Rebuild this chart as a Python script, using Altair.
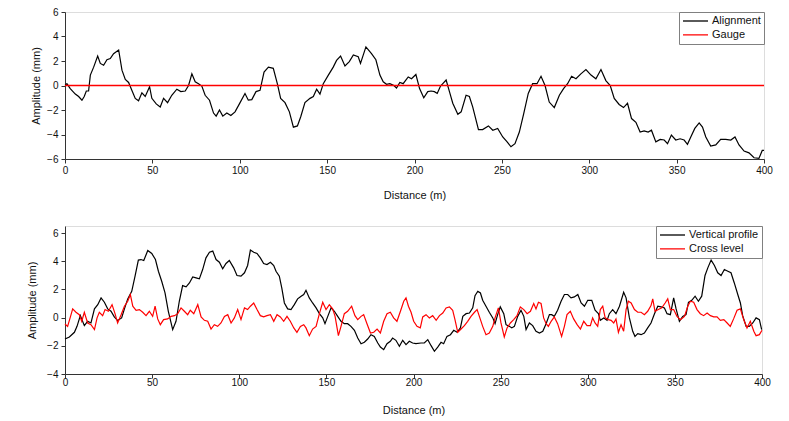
import altair as alt
import pandas as pd

# ---------------- data ----------------
align_dist = [0, 1.1, 3.0, 5.9, 7.8, 9.7, 11.0, 12.2, 13.5, 14.5, 16.4, 18.7, 20.2, 22.1, 24.0, 25.9, 27.8, 30.7,
              32.6, 34.5, 36.4, 38.3, 40.2, 42.1, 44.0, 45.9, 48.4, 49.7, 52.2, 54.5, 56.4, 58.7, 61.1, 64.0, 66.3,
              68.8, 70.7, 72.6, 74.5, 76.4, 78.3, 80.2, 82.7, 85.0, 86.5, 88.4, 90.3, 92.6, 94.9, 97.3, 99.8, 103.0,
              104.9, 106.9, 109.3, 111.6, 113.9, 116.4, 119.2, 121.5, 123.4, 125.9, 128.4, 130.7, 133.0, 134.9,
              137.3, 140.2, 142.1, 144.0, 145.9, 147.8, 150.7, 153.5, 155.4, 157.7, 160.2, 162.7, 165.0, 167.8,
              169.1, 172.2, 175.4, 177.9, 180.2, 182.1, 184.0, 185.9, 188.2, 189.7, 191.6, 193.5, 196.4, 198.3,
              200.8, 202.9, 205.3, 207.6, 209.5, 211.4, 213.0, 214.9, 216.2, 218.1, 220.0, 221.9, 224.8, 226.7,
              229.5, 231.4, 233.3, 236.6, 239.0, 242.3, 244.8, 247.6, 250.5, 253.0, 255.2, 257.5, 260.0, 262.5,
              265.1, 267.6, 270.1, 272.4, 274.7, 277.1, 280.0, 282.9, 285.3, 287.6, 289.9, 292.4, 295.2, 298.1,
              301.0, 303.8, 306.7, 309.5, 312.0, 314.3, 317.1, 319.6, 321.9, 324.2, 326.7, 329.1, 331.4, 333.7,
              335.6, 338.1, 340.6, 342.9, 344.8, 347.0, 349.5, 352.0, 354.3, 356.2, 358.1, 360.4, 362.9, 364.8,
              366.7, 369.5, 372.4, 375.2, 378.1, 381.0, 383.4, 385.7, 388.6, 391.4, 394.3, 397.1, 399.0, 400.0]
align_val = [0.0, 0.15, -0.25, -0.7, -0.9, -1.2, -0.9, -0.45, -0.45, 0.85, 1.5, 2.4, 1.8, 1.65, 2.1, 2.2, 2.6, 2.9,
             1.25, 0.5, 0.25, -0.4, -1.05, -1.25, -0.6, -0.9, -0.1, -1.05, -1.5, -1.75, -1.05, -1.4, -0.8, -0.3, -0.5,
             -0.45, 0.0, 0.95, 0.3, 0.15, -0.05, -0.8, -1.2, -2.25, -2.5, -2.0, -2.5, -2.25, -2.45, -2.15, -1.5, -0.65,
             -1.2, -1.15, -0.5, -0.4, 1.1, 1.5, 1.4, 0.15, -1.05, -1.4, -2.15, -3.4, -3.3, -2.55,
             -1.4, -1.05, -0.9, -0.3, -0.7, 0.15, 0.85, 1.5, 2.05, 2.4, 1.6, 1.95, 2.5, 2.35,
             1.8, 3.15, 2.6, 2.1, 0.85, 0.3, 0.1, 0.15, 0.0, -0.2, 0.25, 0.15, 0.7, 0.55,
             0.9, -0.25, -1.0, -0.5, -0.45, -0.5, -0.65, -0.05, 0.15, 0.45, -0.5, -1.45, -2.35, -2.15,
             -0.8, -0.9, -1.75, -3.6, -3.6, -3.3, -3.65, -3.5, -4.2, -4.6, -5.0, -4.75, -3.8, -2.3,
             -0.65, 0.15, 0.15, 0.75, 0.0, -1.35, -1.8, -0.8, -0.25, 0.15, 0.75, 0.55, 0.95, 1.3,
             0.85, 0.55, 1.3, 0.4, 0.0, -1.05, -1.55, -1.8, -1.45, -2.7, -3.0, -3.8, -3.7, -3.8,
             -3.65, -4.6, -4.4, -4.45, -4.75, -4.05, -4.45, -4.35, -4.45, -4.8, -4.2, -3.5, -3.05, -3.4,
             -4.2, -4.95, -4.85, -4.4, -4.4, -4.45, -4.2, -4.85, -5.35, -5.5, -5.9, -5.95, -5.3, -5.3]
gauge_start = [0]
gauge_end = [400]
gauge_val = [0]

vp_dist = [0, 2.5, 5.4, 6.9, 8.8, 11.1, 13.0, 14.9, 16.9, 18.8, 20.7, 22.6, 24.5, 26.4, 28.3, 30.2, 32.5, 34.1,
           36.0, 38.3, 40.2, 42.1, 43.6, 45.2, 47.5, 49.8, 51.9, 53.6, 55.5, 57.4, 59.3, 61.8, 63.7, 65.6, 67.5,
           69.5, 71.4, 73.3, 75.2, 77.1, 79.0, 80.9, 82.9, 84.8, 86.7, 88.6, 90.5, 92.4, 94.3, 96.8, 98.7,
           101.0, 103.0, 104.8, 106.4, 108.3, 110.2, 112.1, 114.0, 115.9, 117.9, 119.8, 121.1, 123.0, 124.4,
           125.9, 127.8, 129.7, 131.6, 133.5, 135.5, 137.0, 138.3, 140.2, 142.1, 144.1, 146.0, 147.9, 149.2,
           150.8, 152.7, 154.6, 156.5, 158.4, 160.3, 162.2, 164.1, 166.1, 168.0, 169.9, 171.8, 173.7, 175.6,
           177.5, 179.5, 181.0, 182.9, 184.8, 186.7, 188.0, 189.9, 191.9, 193.8, 195.7, 197.6, 199.5, 201.4,
           204.3, 206.2, 208.2, 210.1, 212.0, 213.9, 215.8, 217.3, 219.2, 221.2, 223.1, 225.0, 226.9, 228.3,
           230.2, 232.1, 234.0, 235.3, 236.9, 238.4, 239.7, 241.6, 243.5, 245.5, 246.8, 248.3, 249.8, 251.8,
           253.1, 255.0, 256.4, 257.9, 259.8, 261.7, 263.3, 264.6, 266.5, 268.4, 270.3, 272.3, 274.2, 276.1,
           278.0, 279.3, 280.8, 282.7, 284.7, 286.6, 288.5, 290.4, 292.3, 294.3, 296.2, 298.1, 300.0,
           302.3, 304.2, 306.1, 307.2, 309.2, 311.1, 312.4, 314.3, 316.2, 318.2, 320.6, 322.0, 323.9, 325.8,
           327.1, 328.7, 330.6, 332.5, 334.4, 336.3, 338.3, 340.2, 342.1, 344.0, 345.5, 347.4, 349.3, 350.7,
           352.6, 354.5, 356.4, 357.8, 359.7, 361.6, 363.5, 365.4, 367.3, 368.9, 370.8, 372.7, 374.6, 376.5,
           378.4, 380.4, 382.2, 384.1, 386.1, 387.6, 388.9, 390.9, 392.7, 394.7, 396.6, 398.5, 399.8]
vp_val = [-1.52, -1.37, -1.04, -0.62, 0.14, -0.57, -0.26, -0.38, 0.62, 0.92, 1.4, 1.09, 0.62, 0.45, 0.05, -0.21, -0.02, 0.62,
          1.33, 1.87, 2.94, 4.08, 4.12, 4.05, 4.76, 4.55, 4.12, 3.29, 2.58, 1.75, 0.45, -0.85, -0.26, 1.16, 2.27,
          2.18, 2.46, 2.89, 2.82, 2.75, 3.41, 4.24, 4.64, 4.72, 4.12, 3.93, 3.46, 3.84, 4.05, 3.53, 2.99,
          2.94, 3.18, 3.7, 4.79, 4.64, 4.55, 4.24, 3.84, 3.77, 3.93, 3.7, 3.29, 2.94, 2.11,
          1.04, 0.62, 0.57, 0.92, 1.33, 1.52, 1.64, 1.94, 1.4, 1.04, 0.69, 0.28, -0.02, -0.43,
          0.09, 0.69, 0.45, 0.09, -0.26, -0.43, -0.43, -0.62, -0.9, -1.45, -1.85, -1.75, -1.52, -1.21,
          -1.33, -1.8, -2.09, -2.27, -1.85, -1.68, -1.45, -1.61, -2.04, -1.61, -1.92, -1.68, -1.8, -1.85,
          -1.8, -1.8, -1.56, -1.99, -2.39, -2.09, -1.75, -1.85, -1.33, -1.21, -0.9, -1.04, -0.73, 0.09,
          0.28, 0.33, 0.69, 1.56, 1.87, 1.75, 1.23, 0.81, 0.38, -0.02, -0.43, 0.21, 0.76, 0.28,
          -0.5, -0.62, -0.73, -0.62, 0.09, 0.52, 0.09, -0.85, -0.38, -0.57, -0.97, -1.09, -0.97, -0.43,
          0.21, 0.21, 0.09, 0.52, 1.16, 1.64, 1.64, 1.4, 1.47, 1.64, 1.04, 0.81, 1.23,
          1.23, 0.52, 0.28, -0.19, -0.02, -0.19, 0.28, 0.57, 0.28, 0.81, 1.8, 1.4, -0.02, -0.97,
          -1.33, -1.14, -1.21, -1.09, -0.73, -0.38, 0.28, 0.81, 0.76, 0.69, 0.28, 0.21, 1.4, 0.62,
          -0.26, 0.09, 0.21, 1.09, 1.23, 1.52, 1.16, 1.52, 2.99, 3.53, 4.08, 3.7, 3.18, 2.99,
          3.41, 3.29, 3.18, 2.46, 1.64, 1.04, 0.14, -0.62, -0.62, -0.38, -0.02, -0.14, -0.85]

cl_dist = [0, 1.5, 3.1, 4.4, 6.3, 8.2, 9.6, 11.1, 13.0, 14.9, 16.9, 18.4, 19.7, 21.6, 23.0, 24.9, 27.0, 28.7,
           30.2, 32.2, 34.1, 36.0, 37.5, 38.9, 40.8, 42.7, 44.6, 46.5, 48.4, 50.3, 51.7, 53.2, 54.7, 56.6, 58.9,
           60.9, 62.8, 64.7, 66.6, 68.5, 70.4, 71.9, 73.9, 76.2, 78.1, 80.0, 81.9, 83.8, 85.7, 87.6, 89.5, 91.5,
           93.4, 95.3, 97.2, 99.1,
           101.0, 103.0, 104.8, 106.4, 108.3, 110.2, 112.1, 114.0, 115.9, 117.9, 119.8, 121.7, 123.6, 125.5,
           127.4, 129.3, 131.3, 133.1, 135.1, 137.0, 138.3, 140.2, 142.1, 144.1, 146.0, 147.9, 149.8, 151.7,
           153.6, 155.0, 156.9, 158.4, 160.3, 162.2, 164.5, 166.4, 168.0, 169.9, 171.4, 173.3, 175.3, 177.2,
           179.1, 181.0, 182.9, 184.8, 186.7, 188.6, 190.5, 192.5, 194.4, 195.7, 197.1, 198.6, 200.1, 202.0,
           203.9, 205.3, 207.2, 209.1, 211.0, 213.0, 214.9, 216.8, 218.7, 220.6, 222.5, 223.8, 225.4, 227.3,
           229.2, 231.1, 233.0, 235.0, 236.5, 237.8, 239.7, 241.6, 243.5, 245.5, 246.8, 248.7, 250.2, 252.1,
           253.7, 255.6, 257.5, 259.4, 261.3, 263.3, 265.2, 267.1, 269.0, 270.3, 271.7, 273.2, 274.7, 276.1,
           277.4, 279.0, 280.8, 282.7, 285.0, 286.6, 288.1, 290.0, 291.9, 293.9, 295.8, 297.7, 299.6,
           301.5, 302.8, 304.2, 305.7, 307.2, 308.6, 310.0, 311.8, 313.4, 314.9, 316.2, 317.6, 319.1, 320.6,
           322.0, 323.3, 324.9, 326.8, 328.7, 330.6, 332.5, 334.4, 336.3, 337.3, 338.6, 340.5, 342.5, 344.4,
           345.9, 347.4, 349.3, 351.2, 353.2, 355.5, 357.4, 358.9, 360.8, 362.7, 364.6, 366.5, 368.5, 370.4,
           372.3, 374.2, 376.1, 378.1, 380.0, 381.8, 383.7, 385.7, 387.6, 389.5, 391.4, 393.3, 395.3, 396.6,
           398.5, 400.0]
cl_val = [-0.45, -0.62, 0.05, 0.62, 0.38, 0.21, -0.26, 0.38, -0.38, -0.5, -0.85, -0.02, 0.38, 0.14, 0.57, 0.45, 0.92, 0.28,
          -0.38, 0.21, 0.81, 1.16, 1.64, 0.81, 0.52, 0.57, 0.38, 0.14, 0.45, 0.09, 0.81, -0.09, -0.5, -0.14, -0.09,
          0.09, 0.14, 0.28, 0.69, 0.45, 0.21, 0.52, 0.28, 0.92, 0.05, -0.19, -0.26, -0.81, -0.5, -0.62, -0.38, 0.09,
          0.21, -0.38, -0.02, 0.57,
          -0.14, 0.69, 0.57, 0.81, 1.04, 0.57, 0.14, 0.05, 0.14, 0.21, -0.26, 0.21, 0.05, -0.26,
          0.09, -0.26, -0.73, -1.04, -0.62, -0.5, -0.73, -1.28, -0.81, -0.62, 0.28, 1.09, 0.57, 0.92,
          0.62, 0.09, -1.28, -0.62, 0.28, 0.45, 0.81, 0.14, -0.14, 0.09, 0.21, -0.43, -1.09, -1.04,
          -0.81, -1.09, -0.26, 0.28, 0.38, -0.02, -0.26, 0.45, 1.16, 1.4, 0.81, 0.38, -0.26, -0.62,
          -0.73, 0.05, 0.21, -0.02, 0.14, -0.19, 0.14, 0.33, 0.69, 0.76, 0.52, -0.14, -1.04, -0.81,
          -0.57, -0.26, 0.09, 0.38, 0.57, 0.09, -0.62, -1.21, -1.09, -0.62, -0.02, 0.69, -0.38, -1.37,
          -0.73, -0.38, -0.14, 0.14, 0.76, 0.57, 0.28, 0.45, 1.0, 0.62, 1.09, 1.0, -0.02, -0.43,
          -0.62, -0.26, 0.05, -0.43, -1.33, -0.62, 0.21, 0.45, -0.09, -0.5, -0.81, -0.26, -0.57,
          -0.57, -0.02, -0.38, -0.62, 0.57, 0.81, -0.02, -0.14, -0.19, -0.38, -0.09, -1.04, -0.5, -0.97,
          0.57, 1.16, 1.04, 0.57, 0.38, 0.38, 0.21, 0.45, 0.85, 1.33, 0.45, 0.57, 0.69, 1.04,
          1.33, 0.57, 0.57, 0.09, -0.14, 0.09, 0.81, 1.16, 1.09, 0.57, 0.28, 0.14, 0.33, 0.14,
          0.05, 0.05, -0.19, -0.14, -0.38, -0.62, -0.09, 0.52, 0.62, -0.14, -0.73, -0.26, -0.97, -1.28,
          -1.21, -0.9]

x_ticks = [0, 50, 100, 150, 200, 250, 300, 350, 400]
y_ticks_top = [-6, -4, -2, 0, 2, 4, 6]
y_ticks_bottom = [-4, -2, 0, 2, 4, 6]

top_series = ["Alignment", "Gauge"]
bottom_series = ["Vertical profile", "Cross level"]
line_colors = ["#000000", "#ff0000"]

# ---------------- tables ----------------
align_df = pd.DataFrame({"distance": align_dist, "value": align_val, "series": top_series[0]})
gauge_df = pd.DataFrame({"distance": gauge_start, "distance_end": gauge_end, "value": gauge_val,
                         "series": top_series[1]})
vp_df = pd.DataFrame({"distance": vp_dist, "value": vp_val, "series": bottom_series[0]})
cl_df = pd.DataFrame({"distance": cl_dist, "value": cl_val, "series": bottom_series[1]})

FONT = "Liberation Sans"


def axis_common(**kw):
    return alt.Axis(grid=False, tickSize=4, domainColor="#333333", tickColor="#333333",
                    labelFontSize=10, titleFontSize=11, titleFontWeight="normal",
                    labelFont=FONT, titleFont=FONT, labelColor="#111111", titleColor="#111111",
                    **kw)


def encodings(series, y_domain, y_ticks, ytitle_pad, xlabel_pad, xtitle_pad):
    x = alt.X("distance:Q", scale=alt.Scale(domain=[0, 400], nice=False),
              axis=axis_common(values=x_ticks, title="Distance (m)", labelPadding=xlabel_pad,
                               titlePadding=xtitle_pad, labelFlush=False))
    y = alt.Y("value:Q", scale=alt.Scale(domain=y_domain, nice=False, zero=False),
              axis=axis_common(values=y_ticks, title="Amplitude (mm)", labelPadding=3,
                               titlePadding=ytitle_pad))
    color = alt.Color("series:N", scale=alt.Scale(domain=series, range=line_colors),
                      legend=alt.Legend(title=None, orient="top-right", offset=0,
                                        symbolType="stroke", symbolSize=625, clipHeight=12,
                                        symbolStrokeWidth=1.3, labelOffset=3,
                                        labelFontSize=11, labelFont=FONT,
                                        labelColor="#111111", rowPadding=1.8,
                                        fillColor="white", strokeColor="#808080",
                                        padding=3))
    return x, y, color


# top panel: alignment line + gauge (constant 0) as a rule across the whole distance
x1, y1, c1 = encodings(top_series, [-6, 6], y_ticks_top, 5, 2, 14)
top = alt.layer(
    alt.Chart(align_df).mark_line(strokeWidth=1.2).encode(x=x1, y=y1, color=c1),
    alt.Chart(gauge_df).mark_rule(strokeWidth=1.4).encode(
        x=x1, x2="distance_end:Q", y=y1, color=c1),
).properties(width=699, height=147)

# bottom panel: vertical profile + cross level
x2, y2, c2 = encodings(bottom_series, [-4, 6.5], y_ticks_bottom, 9, -1, 17)
bottom = alt.layer(
    alt.Chart(vp_df).mark_line(strokeWidth=1.2).encode(x=x2, y=y2, color=c2),
    alt.Chart(cl_df).mark_line(strokeWidth=1.2).encode(x=x2, y=y2, color=c2),
).properties(width=697, height=148)

chart = alt.concat(top, bottom, columns=1, spacing=24, align="none").resolve_scale(
    color="independent"
).properties(
    padding={"left": 18, "top": -2, "right": 5, "bottom": 0}
).configure_view(
    stroke="#cccccc", strokeWidth=1
).configure_legend(
    strokeWidth=1
).configure(background="white")

chart.save("out.html", embed_options={"renderer": "svg", "actions": False})
